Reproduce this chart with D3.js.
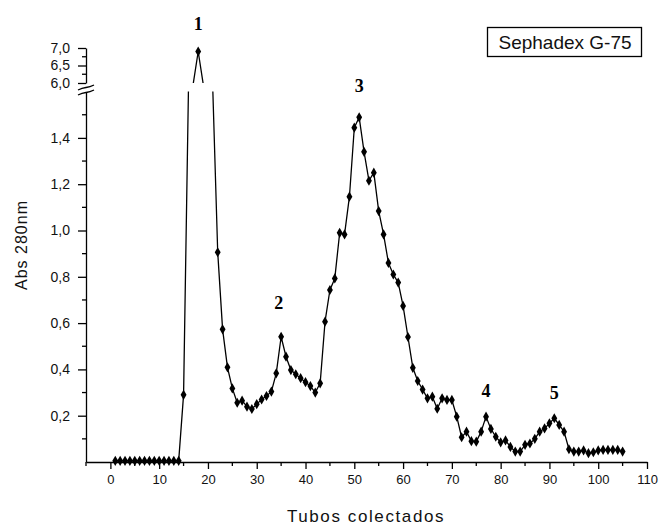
<!DOCTYPE html>
<html><head><meta charset="utf-8">
<script src="https://cdn.jsdelivr.net/npm/d3@7"></script>
<style>body{margin:0;background:#fff}svg{display:block}</style>
</head><body>
<svg id="c" width="661" height="525"></svg>
<script>
// Tube numbers 1..105
const tubes = d3.range(1, 106);
// Absorbance at 280 nm (values of tubes 16-21 are off the lower scale, beyond the axis break)
const absorbance = [
  0.005,0.005,0.005,0.005,0.005,0.005,0.005,0.005,0.005,0.005,0.005,0.005,0.005,0.005, // 1-14
  0.29, 2.5, 5.9, 6.9, 5.9, 3.5, 2.0,                                                 // 15-21
  0.906,0.573,0.409,0.318,0.256,0.265,0.239,0.229,0.25,0.27,                           // 22-31
  0.285,0.304,0.383,0.541,0.455,0.397,0.379,0.362,0.345,0.328,                         // 32-41
  0.30,0.34,0.606,0.743,0.793,0.99,0.983,1.146,1.444,1.489,                            // 42-51
  1.34,1.215,1.25,1.084,0.983,0.86,0.81,0.775,0.674,0.54,                              // 52-61
  0.407,0.35,0.313,0.275,0.282,0.23,0.275,0.268,0.268,0.196,                           // 62-71
  0.107,0.131,0.09,0.088,0.131,0.196,0.143,0.109,0.085,0.093,                          // 72-81
  0.065,0.045,0.045,0.074,0.08,0.10,0.131,0.145,0.167,0.189,                           // 82-91
  0.16,0.131,0.055,0.045,0.045,0.05,0.038,0.042,0.05,0.052,                            // 92-101
  0.052,0.052,0.052,0.045                                                              // 102-105
];
const xTicks = [0,10,20,30,40,50,60,70,80,90,100,110];
const xMinor = [-5,5,15,25,35,45,55,65,75,85,95,105];
const yLowTicks = [0.2,0.4,0.6,0.8,1.0,1.2,1.4];
const yLowMinor = [0.1,0.3,0.5,0.7,0.9,1.1,1.3,1.5];
const yHighTicks = [6.0,6.5,7.0];
const yHighMinor = [6.25,6.75];
const peakLabels = ["1","2","3","4","5"];
const peakTubes = [18,34.5,51,77,91];
const peakLabelValues = [7.0, 0.66, 1.6, 0.28, 0.27];
const xTitle = "Tubos colectados";
const yTitle = "Abs 280nm";
const legendText = "Sephadex G-75";

const data = tubes.map((t,i)=>({t, v: absorbance[i]}));
const svg = d3.select("#c");
const fmt = d => d.toFixed(1).replace(".", ",");

const x = d3.scaleLinear().domain([-5,110]).range([86,647]);
const yBottom = 462, breakLowPx = 91.6, breakHighPx = 83, topPx = 48;
const yLow = d3.scaleLinear().domain([0,1.6]).range([yBottom, breakLowPx]);
const yHigh = d3.scaleLinear().domain([6.0,7.0]).range([breakHighPx, topPx]);
const y = d3.scaleLinear().domain([0,1.6,6.0,7.0]).range([yBottom, breakLowPx, breakHighPx, topPx]);

const defs = svg.append("defs");
defs.append("clipPath").attr("id","clipLow").append("rect")
  .attr("x",86).attr("y",breakLowPx).attr("width",570).attr("height",yBottom-breakLowPx+6);
defs.append("clipPath").attr("id","clipHigh").append("rect")
  .attr("x",86).attr("y",20).attr("width",570).attr("height",breakHighPx-20);

const font = "'Liberation Sans', Arial, sans-serif";

// X axis
const xAxis = svg.append("g").attr("transform",`translate(0,${yBottom})`)
  .call(d3.axisBottom(x).tickValues(xTicks).tickSize(7).tickSizeOuter(0).tickPadding(6).tickFormat(d3.format("d")));
xAxis.select(".domain").attr("stroke","#000").attr("stroke-width",1.3);
xAxis.selectAll(".tick line").attr("stroke","#000").attr("stroke-width",1.3);
xAxis.selectAll("text").attr("font-family",font).attr("font-size",13).attr("fill","#111");
svg.append("g").selectAll("line").data(xMinor).join("line")
  .attr("x1",d=>x(d)).attr("x2",d=>x(d)).attr("y1",yBottom).attr("y2",yBottom+4)
  .attr("stroke","#000").attr("stroke-width",1.3);

// Y axis lower segment
const yA = svg.append("g").attr("transform","translate(86,0)")
  .call(d3.axisLeft(yLow).tickValues(yLowTicks).tickSize(8).tickSizeOuter(0).tickPadding(8).tickFormat(fmt));
yA.select(".domain").attr("stroke","#000").attr("stroke-width",1.3);
yA.selectAll(".tick line").attr("stroke","#000").attr("stroke-width",1.3);
yA.selectAll("text").attr("font-family",font).attr("font-size",14).attr("fill","#111");
svg.append("g").selectAll("line").data(yLowMinor).join("line")
  .attr("x1",86).attr("x2",82).attr("y1",d=>yLow(d)).attr("y2",d=>yLow(d))
  .attr("stroke","#000").attr("stroke-width",1.3);

// Y axis upper segment
const yB = svg.append("g").attr("transform","translate(86,0)")
  .call(d3.axisLeft(yHigh).tickValues(yHighTicks).tickSize(8).tickSizeOuter(0).tickPadding(8).tickFormat(fmt));
yB.select(".domain").attr("stroke","#000").attr("stroke-width",1.3);
yB.selectAll(".tick line").attr("stroke","#000").attr("stroke-width",1.3);
yB.selectAll("text").attr("font-family",font).attr("font-size",14).attr("fill","#111");
svg.append("g").selectAll("line").data(yHighMinor).join("line")
  .attr("x1",86).attr("x2",82).attr("y1",d=>yHigh(d)).attr("y2",d=>yHigh(d))
  .attr("stroke","#000").attr("stroke-width",1.3);

// Break marks
const bk = svg.append("g");
bk.append("path").attr("d","M78,91 L94,85 L94,89 L78,95 Z").attr("fill","#fff");
bk.append("path").attr("d","M78,90 Q82,88 86,87.5 T94,85").attr("fill","none").attr("stroke","#000").attr("stroke-width",1.3);
bk.append("path").attr("d","M78,95 Q82,93 86,92.5 T94,90").attr("fill","none").attr("stroke","#000").attr("stroke-width",1.3);

// Data line & markers (drawn in both segments)
const line = d3.line().x(d=>x(d.t)).y(d=>y(d.v));
const sym = d3.symbol().type(d3.symbolDiamond).size(30);
[["clipLow", d=>d.v<=1.6],["clipHigh", d=>d.v>=6.0]].forEach(([clip, keep])=>{
  const g = svg.append("g").attr("clip-path",`url(#${clip})`);
  g.append("path").datum(data).attr("d",line).attr("fill","none")
    .attr("stroke","#000").attr("stroke-width",1.3).attr("stroke-linejoin","round");
  g.selectAll("path.m").data(data.filter(keep)).join("path").attr("class","m")
    .attr("transform",d=>`translate(${x(d.t)},${y(d.v)})`).attr("d",sym).attr("fill","#000");
});

// Peak labels
svg.append("g").selectAll("text").data(peakLabels).join("text")
  .attr("x",(d,i)=>x(peakTubes[i])).attr("y",(d,i)=>i===0?30:y(peakLabelValues[i]))
  .attr("text-anchor","middle").attr("font-family","'Liberation Serif','Times New Roman',serif")
  .attr("font-weight","bold").attr("font-size",18).attr("fill","#000").text(d=>d);

// Axis titles
svg.append("text").attr("x",366).attr("y",522).attr("text-anchor","middle")
  .attr("font-family",font).attr("font-size",17).attr("letter-spacing",1.6).attr("fill","#111").text(xTitle);
svg.append("text").attr("transform","translate(27,245) rotate(-90)").attr("text-anchor","middle")
  .attr("font-family",font).attr("font-size",16).attr("letter-spacing",1).attr("fill","#111").text(yTitle);

// Legend box
const lg = svg.append("g");
lg.append("rect").attr("x",487.5).attr("y",27.5).attr("width",154).attr("height",29)
  .attr("fill","#fff").attr("stroke","#000").attr("stroke-width",1.3);
lg.append("text").attr("x",565).attr("y",49).attr("text-anchor","middle")
  .attr("font-family",font).attr("font-size",19).attr("fill","#111").text(legendText);
</script>
</body></html>
